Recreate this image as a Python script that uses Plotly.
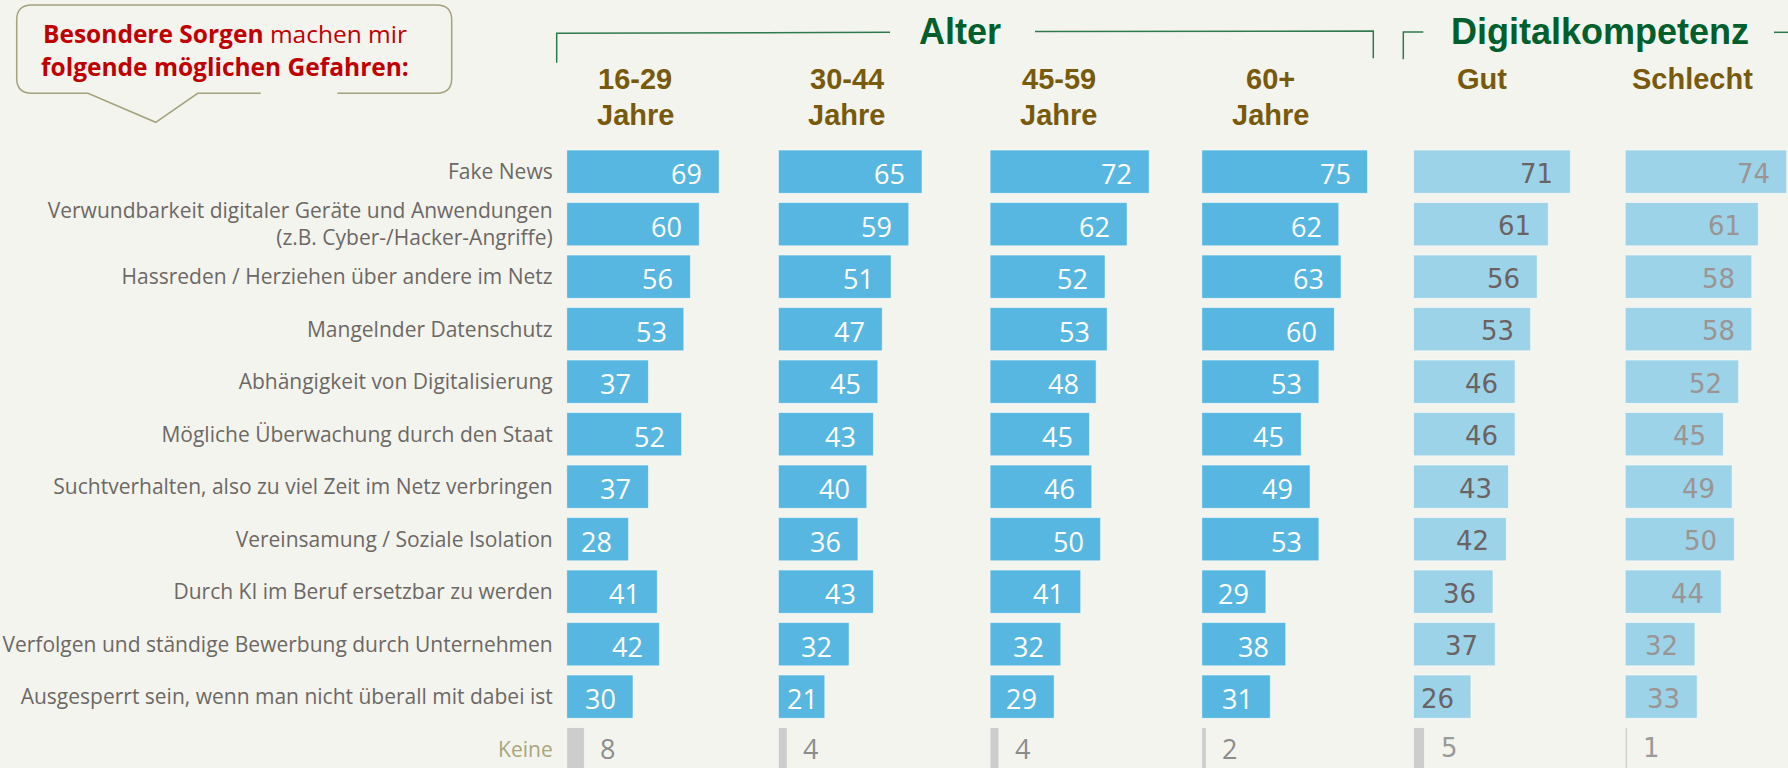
"""
Besondere Sorgen: Gefahren der Digitalisierung nach Alter und Digitalkompetenz.
"""

import plotly.graph_objects as go

# Daten
categories = [
    "Fake News",
    "Verwundbarkeit digitaler Geräte und Anwendungen<br>(z.B. Cyber-/Hacker-Angriffe)",
    "Hassreden / Herziehen über andere im Netz",
    "Mangelnder Datenschutz",
    "Abhängigkeit von Digitalisierung",
    "Mögliche Überwachung durch den Staat",
    "Suchtverhalten, also zu viel Zeit im Netz verbringen",
    "Vereinsamung / Soziale Isolation",
    "Durch KI im Beruf ersetzbar zu werden",
    "Verfolgen und ständige Bewerbung durch Unternehmen",
    "Ausgesperrt sein, wenn man nicht überall mit dabei ist",
    "Keine",
]

group_titles = [
    ["16-29", "Jahre"],
    ["30-44", "Jahre"],
    ["45-59", "Jahre"],
    ["60+", "Jahre"],
    ["Gut"],
    ["Schlecht"],
]

values_16_29 = [69, 60, 56, 53, 37, 52, 37, 28, 41, 42, 30, 8]
values_30_44 = [65, 59, 51, 47, 45, 43, 40, 36, 43, 32, 21, 4]
values_45_59 = [72, 62, 52, 53, 48, 45, 46, 50, 41, 32, 29, 4]
values_60_plus = [75, 62, 63, 60, 53, 45, 49, 53, 29, 38, 31, 2]
values_gut = [71, 61, 56, 53, 46, 46, 43, 42, 36, 37, 26, 5]
values_schlecht = [74, 61, 58, 58, 52, 45, 49, 50, 44, 32, 33, 1]

series = [values_16_29, values_30_44, values_45_59, values_60_plus, values_gut, values_schlecht]

# Geometrie (Pixel)
W, H = 1788, 768
PANEL_LEFT = 566.7
PANEL_STEP = 211.7
PX_PER_UNIT = 2.21
ROW0 = 171.7
ROW_STEP = 52.5

BG = "#f4f4ee"
BLUE = "#58b7e1"
LIGHT_BLUE = "#9dd3e8"
GREY_BAR = "#cdcdcd"
GREEN = "#005f2c"
BROWN = "#785a0c"
TEXT_GREY = "#6c6865"


def px(x):
    return x / W


def py(y):
    return 1 - y / H


def path(cmds):
    # cmds: Liste von (Befehl, [(x, y), ...]) in Pixeln
    out = []
    for cmd, pts in cmds:
        out.append(cmd + " " + " ".join(f"{px(x):.5f},{py(y):.5f}" for x, y in pts))
    return " ".join(out)


fig = go.Figure()
annotations = []

for k, vals in enumerate(series):
    left = PANEL_LEFT + k * PANEL_STEP
    right = min(left + 205, W)
    ax = "x" if k == 0 else f"x{k + 1}"
    digital = k >= 4

    colors = [LIGHT_BLUE if digital else BLUE] * (len(vals) - 1) + [GREY_BAR]

    fig.add_trace(go.Bar(
        x=vals,
        y=list(range(len(vals))),
        orientation="h",
        width=0.825,
        marker=dict(color=colors, line=dict(color="rgba(255,255,255,0.55)", width=1)),
        xaxis=ax,
        yaxis="y",
        hoverinfo="skip",
    ))

    axis_name = "xaxis" if k == 0 else f"xaxis{k + 1}"
    fig.update_layout(**{axis_name: dict(
        domain=[px(left), px(right)],
        range=[0, max((right - left) / PX_PER_UNIT, max(vals) + 0.6)],
        anchor="y",
        visible=False,
        fixedrange=True,
    )})

    if digital:
        label_font = dict(family="DejaVu Sans", size=26,
                          color="#6b6363" if k == 4 else "#9b9494")
        none_font = dict(family="DejaVu Sans", size=26, color="#9a9a9a")
    else:
        label_font = dict(family="Open Sans", size=27, color="white")
        none_font = dict(family="Open Sans", size=27, color="#8c8c8c")

    for i, v in enumerate(vals):
        last = i == len(vals) - 1
        # kurze Balken: Zahl weiter nach rechts, damit sie im Balken bleibt
        inner = min(15, max(3, v * PX_PER_UNIT - 42))
        annotations.append(dict(
            x=v, y=i, xref=ax, yref="y",
            text=str(v),
            showarrow=False,
            xanchor="left" if last else "right",
            xshift=14 if last else -inner,
            yshift=1 if last else -2,
            font=none_font if last else label_font,
        ))

    # Spaltenköpfe
    for j, line in enumerate(group_titles[k]):
        annotations.append(dict(
            x=31, y=py(79 + j * 36), xref=ax, yref="paper",
            text=line, showarrow=False,
            xanchor="center", yanchor="middle",
            font=dict(family="Liberation Sans", size=29, color=BROWN, weight="bold"),
        ))

# Gruppentitel
for text, xc in [("Alter", 960), ("Digitalkompetenz", 1600)]:
    annotations.append(dict(
        x=px(xc), y=py(31), xref="paper", yref="paper",
        text=f"<b>{text}</b>", showarrow=False,
        xanchor="center", yanchor="middle",
        font=dict(family="Liberation Sans", size=36, color=GREEN),
    ))

# Sprechblase
bubble_lines = [
    "<b>Besondere Sorgen</b> machen mir",
    "<b>folgende möglichen Gefahren:</b>",
]
for j, line in enumerate(bubble_lines):
    annotations.append(dict(
        x=px(225), y=py(33 + j * 33.5), xref="paper", yref="paper",
        text=line, showarrow=False,
        xanchor="center", yanchor="middle",
        font=dict(family="Open Sans", size=24.5, color="#c00000"),
    ))

ticktext = categories[:-1] + [f"<span style='color:#a9a67c'>{categories[-1]}</span>"]

shapes = [
    # Sprechblase mit Spitze
    dict(type="path", xref="paper", yref="paper",
         path=path([
             ("M", [(260.7, 93.3)]), ("L", [(197.7, 93.3)]), ("L", [(155.7, 122.3)]),
             ("L", [(88, 93.3)]), ("L", [(31.7, 93.3)]),
             ("Q", [(16.7, 93.3), (16.7, 78.3)]), ("L", [(16.7, 20)]),
             ("Q", [(16.7, 5), (31.7, 5)]), ("L", [(436.7, 5)]),
             ("Q", [(451.7, 5), (451.7, 20)]), ("L", [(451.7, 78.3)]),
             ("Q", [(451.7, 93.3), (436.7, 93.3)]), ("L", [(337.3, 93.3)]),
         ]),
         line=dict(color="#a3a27c", width=1.5)),
    # Klammer Alter
    dict(type="path", xref="paper", yref="paper",
         path=path([("M", [(556.7, 62.7)]), ("L", [(556.7, 33.3)]), ("L", [(890, 32.3)])]),
         line=dict(color="#2f7a4c", width=1.5)),
    dict(type="path", xref="paper", yref="paper",
         path=path([("M", [(1035, 31.5)]), ("L", [(1373.3, 31)]), ("L", [(1373.3, 58.3)])]),
         line=dict(color="#2f7a4c", width=1.5)),
    # Klammer Digitalkompetenz
    dict(type="path", xref="paper", yref="paper",
         path=path([("M", [(1403.3, 59.3)]), ("L", [(1403.3, 32)]), ("L", [(1423.3, 32)])]),
         line=dict(color="#2f7a4c", width=1.5)),
    dict(type="path", xref="paper", yref="paper",
         path=path([("M", [(1774, 32.3)]), ("L", [(1788, 32.3)])]),
         line=dict(color="#2f7a4c", width=1.5)),
]

fig.update_layout(
    width=W,
    height=H,
    margin=dict(l=0, r=0, t=0, b=0),
    paper_bgcolor=BG,
    plot_bgcolor=BG,
    showlegend=False,
    yaxis=dict(
        domain=[0, 1],
        range=[(H - ROW0) / ROW_STEP, -ROW0 / ROW_STEP],
        anchor="x",
        tickmode="array",
        tickvals=list(range(len(categories))),
        ticktext=ticktext,
        ticks="",
        ticklabelstandoff=13,
        showgrid=False,
        zeroline=False,
        showline=False,
        tickfont=dict(family="Open Sans", size=21, color=TEXT_GREY),
        fixedrange=True,
    ),
    annotations=annotations,
    shapes=shapes,
)

# Seitenrand entfernen, damit die Grafik bündig im Fenster sitzt
fig.write_html(
    "out.html",
    config={"displayModeBar": False},
    post_script=f"document.body.style.margin='0';document.body.style.background='{BG}';",
)
